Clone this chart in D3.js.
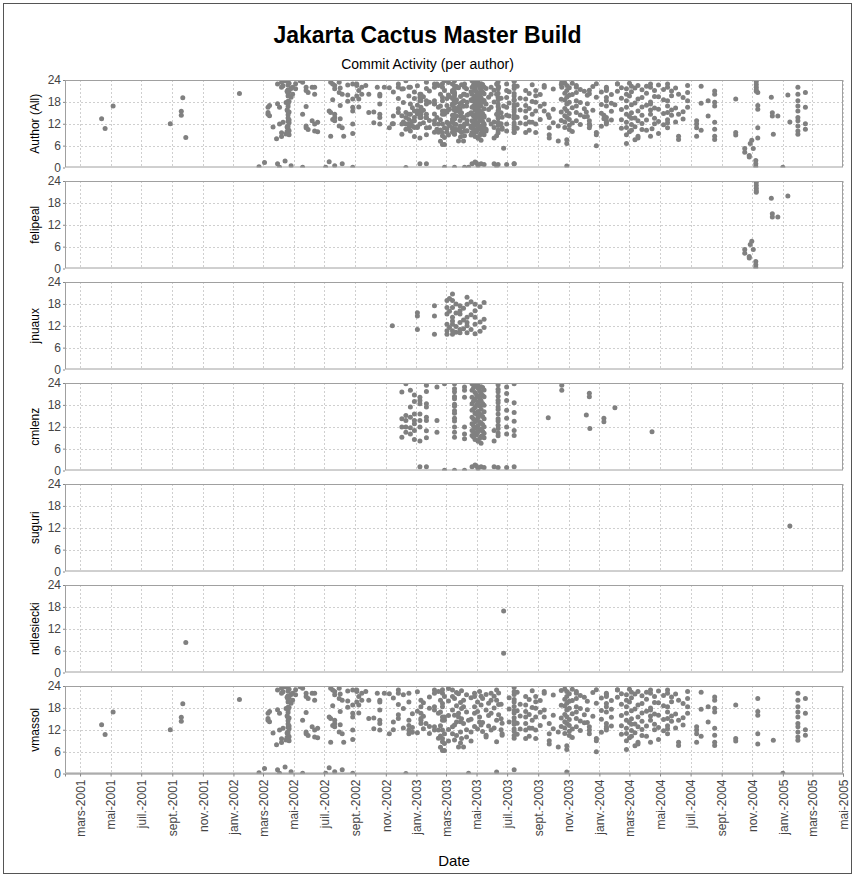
<!DOCTYPE html>
<html>
<head>
<meta charset="utf-8">
<script src="https://cdn.jsdelivr.net/npm/d3@7"></script>
<style>
	body { margin: 0; background: #fff; }
	text { font-family: "Liberation Sans", Arial, sans-serif; }
</style>
</head>
<body>
<div id="chart-area"></div>
<script>
// commit activity: one entry per day, [date, hours of day of commits]
const felipeal = [
	["2004-10-17", [5.2, 4.2]],
	["2004-10-26", [3.3, 2.9]],
	["2004-10-28", [6.6]],
	["2004-10-31", [7.5]],
	["2004-11-03", [5.2]],
	["2004-11-08", [1.9, 1.0, 0.3]],
	["2004-11-09", [23.6, 22.8, 22.0, 21.3, 20.9]],
	["2004-12-09", [19.3]],
	["2004-12-11", [15.0, 14.1]],
	["2004-12-22", [14.1]],
	["2005-01-11", [19.9]]
];

const jnuaux = [
	["2002-11-14", [12.0]],
	["2003-01-03", [15.6, 14.7, 11.0]],
	["2003-02-06", [17.5, 14.7, 9.7]],
	["2003-03-03", [18.9, 17.0, 15.2, 12.4, 10.6, 9.7]],
	["2003-03-08", [19.5, 16.0, 11.5]],
	["2003-03-14", [20.7, 18.9, 17.0, 14.3, 13.3, 12.4, 10.6, 9.7]],
	["2003-03-21", [18.0, 15.5, 11.8, 10.2]],
	["2003-03-29", [17.5, 16.1, 15.2, 12.9, 11.0, 10.1]],
	["2003-04-05", [16.8, 13.6, 11.2]],
	["2003-04-12", [19.8, 17.9, 14.3, 12.9, 12.0, 10.1]],
	["2003-04-20", [18.6, 15.0, 11.0]],
	["2003-04-28", [17.9, 16.1, 14.3, 12.4, 9.8]],
	["2003-05-08", [17.2, 13.0, 10.5]],
	["2003-05-16", [18.4, 13.8, 11.5]]
];

const cmlenz = [
	["2002-12-03", [21.5, 14.2, 11.9, 9.1]],
	["2002-12-11", [23.8, 15.1, 13.7, 11.9, 10.5]],
	["2002-12-20", [22.0, 17.4, 14.6, 11.7, 10.0]],
	["2002-12-28", [20.7, 18.9, 15.5, 13.7, 12.8, 11.0, 8.5]],
	["2003-01-08", [20.1, 19.2, 18.3, 15.5, 13.7, 11.9, 8.1, 1.0]],
	["2003-01-21", [23.4, 21.7, 18.3, 17.4, 14.6, 13.7, 10.9, 9.0, 1.0]],
	["2003-02-11", [22.9, 13.7, 10.5]],
	["2003-02-26", [23.8, 0.1]],
	["2003-03-18", [23.8, 22.4, 21.6, 20.3, 19.7, 18.2, 17.6, 16.4, 15.7, 14.3, 13.6, 11.9, 10.5, 9.1, 0.1]],
	["2003-04-07", [22.9, 22.0, 20.1, 11.9, 10.0, 8.7, 0.1]],
	["2003-04-22", [23.8, 22.0, 20.1, 18.3, 16.5, 14.6, 12.8, 11.0, 9.6, 1.0]],
	["2003-04-25", [22.7, 19.0, 16.9, 14.1, 12.2, 10.7, 9.2]],
	["2003-04-28", [23.5, 21.4, 19.6, 17.3, 15.7, 13.4, 11.6, 10.0, 8.5, 1.5]],
	["2003-05-01", [23.2, 20.8, 18.0, 15.4, 13.8, 11.8, 9.8, 1.2]],
	["2003-05-04", [24.0, 22.6, 20.4, 18.7, 16.2, 14.5, 12.3, 10.6, 8.0, 0.5]],
	["2003-05-07", [21.9, 19.8, 17.7, 15.6, 13.3, 11.1, 8.8]],
	["2003-05-10", [23.0, 21.2, 19.1, 16.8, 15.2, 13.0, 11.3, 9.4, 7.5, 1.0]],
	["2003-05-13", [22.8, 20.6, 18.4, 14.8, 12.6, 10.8, 9.3]],
	["2003-05-16", [22.1, 20.2, 17.9, 16.1, 14.2, 12.0, 10.2, 9.0, 0.8]],
	["2003-06-05", [11.0, 8.1, 1.0]],
	["2003-06-13", [23.5, 22.3, 21.6, 20.4, 19.3, 18.6, 17.4, 16.7, 15.5, 14.2, 13.6, 12.4, 11.5, 10.3, 9.5, 0.8]],
	["2003-06-30", [22.9, 21.1, 19.2, 16.5, 14.3, 11.9, 10.0, 0.8]],
	["2003-07-15", [23.8, 18.6, 15.9, 13.5, 11.0, 9.6, 1.0]],
	["2003-09-21", [14.5]],
	["2003-10-18", [23.4, 22.0]],
	["2003-12-06", [15.2]],
	["2003-12-12", [21.2, 20.2]],
	["2003-12-13", [11.5]],
	["2004-01-10", [14.3, 13.4]],
	["2004-02-01", [17.2]],
	["2004-04-15", [10.6]]
];

const suguri = [
	["2005-01-15", [12.5]]
];

const ndlesiecki = [
	["2001-09-28", [8.2]],
	["2003-06-24", [16.9, 5.3]]
];

const vmassol = [
	["2001-04-13", [13.4]],
	["2001-04-20", [10.7]],
	["2001-05-06", [16.9]],
	["2001-08-28", [12.0]],
	["2001-09-19", [15.4, 14.3]],
	["2001-09-22", [19.1]],
	["2002-01-13", [20.3]],
	["2002-02-21", [0.2]],
	["2002-03-04", [1.4]],
	["2002-03-11", [16.5, 15.1, 14.6]],
	["2002-03-14", [17.0, 14.2]],
	["2002-03-21", [11.1]],
	["2002-03-28", [7.9]],
	["2002-03-30", [22.9, 17.5, 1.0]],
	["2002-04-03", [16.5, 11.9, 0.1]],
	["2002-04-07", [23.4, 22.0, 9.5, 8.5]],
	["2002-04-10", [22.4, 12.4]],
	["2002-04-14", [23.8, 1.8]],
	["2002-04-16", [23.8, 17.8, 9.2]],
	["2002-04-18", [20.9, 15.8, 11.1, 9.9]],
	["2002-04-20", [22.6, 21.3, 20.4, 19.6, 18.2, 17.4, 16.7, 15.3, 14.5, 13.6, 12.7, 11.4, 10.6, 9.3]],
	["2002-04-22", [23.1, 21.0, 18.1, 15.2, 13.0, 12.3, 10.1, 9.0]],
	["2002-04-26", [21.7, 19.3, 0.5]],
	["2002-04-29", [22.0, 20.1]],
	["2002-05-05", [23.0, 21.6]],
	["2002-05-14", [23.8]],
	["2002-05-19", [23.4, 14.6, 0.1]],
	["2002-05-26", [22.0, 21.1, 16.7, 11.4, 10.9]],
	["2002-05-30", [20.6, 10.4]],
	["2002-06-07", [22.0, 12.8]],
	["2002-06-12", [22.0, 20.1, 11.9, 10.0]],
	["2002-06-18", [12.4, 9.8]],
	["2002-07-04", [0.1]],
	["2002-07-11", [15.5, 1.6]],
	["2002-07-14", [23.4, 15.1, 8.6]],
	["2002-07-18", [22.9, 18.6, 13.2]],
	["2002-07-22", [22.5, 21.6, 14.6, 13.7, 12.8, 0.5]],
	["2002-07-31", [23.4, 20.6, 11.4]],
	["2002-08-02", [21.8, 17.0, 13.4]],
	["2002-08-06", [20.1, 10.9, 1.0]],
	["2002-08-09", [8.6]],
	["2002-08-17", [22.6, 19.9, 18.2]],
	["2002-08-27", [22.9, 18.8, 16.5, 15.5, 11.9, 9.3, 0.1]],
	["2002-09-04", [22.9, 22.5, 19.6]],
	["2002-09-08", [21.1, 18.8, 16.6]],
	["2002-09-14", [22.0, 20.1]],
	["2002-09-22", [22.5]],
	["2002-09-28", [20.1, 15.1]],
	["2002-10-08", [15.2, 12.3]],
	["2002-10-15", [22.0]],
	["2002-10-20", [20.1, 19.6, 17.4, 14.6, 13.7, 11.9]],
	["2002-10-29", [22.0]],
	["2002-11-08", [21.9, 10.9]],
	["2002-11-16", [20.7, 14.1, 12.0]],
	["2002-11-26", [22.9, 22.0, 18.9, 16.1, 15.1]],
	["2002-12-06", [21.6, 17.8, 12.5]],
	["2002-12-11", [0.0]],
	["2002-12-17", [22.0, 19.6, 14.6, 13.2, 11.9, 10.9]],
	["2002-12-24", [16.4, 12.6, 11.3]],
	["2003-01-03", [22.4, 17.1, 11.2]],
	["2003-01-10", [20.1, 18.3, 16.5, 15.1, 14.6, 13.7]],
	["2003-01-15", [19.4, 15.7, 12.3]],
	["2003-01-20", [13.7]],
	["2003-01-27", [21.0, 17.9, 12.9, 11.0]],
	["2003-02-06", [22.9, 22.0, 18.3, 17.4, 12.8, 11.9]],
	["2003-02-14", [22.5, 16.5, 11.9, 9.7]],
	["2003-02-18", [20.1, 16.9, 13.1, 10.3, 7.2]],
	["2003-02-22", [23.0, 22.0, 19.2, 18.3, 15.5, 14.6, 11.9, 9.6, 8.7, 6.3]],
	["2003-02-26", [21.1, 15.5, 14.6, 10.9, 8.2, 6.3]],
	["2003-03-06", [23.3, 19.9, 15.9, 12.1, 8.9]],
	["2003-03-14", [22.9, 21.1, 17.4, 12.8, 10.9]],
	["2003-03-18", [20.6, 16.0, 13.3, 9.2]],
	["2003-03-22", [22.2, 18.6, 14.1, 10.4]],
	["2003-03-26", [21.9, 16.5, 15.5, 7.3]],
	["2003-03-30", [19.5, 14.2, 11.4, 8.4]],
	["2003-04-01", [22.7, 17.8, 15.0, 9.6]],
	["2003-04-05", [20.1, 18.3, 13.7, 7.3]],
	["2003-04-11", [21.6, 16.9, 12.0, 10.0]],
	["2003-04-15", [14.6, 0.1]],
	["2003-04-20", [20.8, 14.9, 11.4, 8.9]],
	["2003-04-27", [22.0, 21.1, 18.3, 16.5, 12.9]],
	["2003-05-03", [19.6, 17.0, 12.2]],
	["2003-05-07", [22.5, 15.5, 14.1]],
	["2003-05-10", [21.2, 18.8, 13.3]],
	["2003-05-13", [20.6, 14.0, 11.5]],
	["2003-05-20", [21.7, 17.4, 10.5, 10.0]],
	["2003-05-25", [19.3, 15.9, 13.0]],
	["2003-05-30", [22.0, 20.1, 16.5, 11.9]],
	["2003-06-05", [21.2, 18.0, 12.5]],
	["2003-06-10", [22.9, 20.1, 14.6, 8.7, 0.4]],
	["2003-06-14", [22.1, 18.9, 16.1]],
	["2003-06-19", [19.0, 15.0, 12.0]],
	["2003-06-21", [13.8, 10.9, 10.5]],
	["2003-07-05", [20.8, 17.7, 14.1]],
	["2003-07-15", [23.6, 22.4, 21.7, 20.3, 19.6, 18.4, 17.2, 16.6, 15.3, 14.4, 13.5, 12.2, 11.6, 10.4, 9.7, 1.0]],
	["2003-07-21", [22.3, 17.2, 13.8, 10.8]],
	["2003-07-27", [19.0, 15.8, 12.2]],
	["2003-08-07", [21.1, 18.8, 17.0, 15.5, 13.7, 11.9, 9.6]],
	["2003-08-14", [20.3, 16.2, 12.5, 10.2]],
	["2003-08-20", [22.7, 18.1, 14.6, 12.4]],
	["2003-08-27", [21.1, 19.7, 17.9, 15.5, 11.9, 9.6]],
	["2003-09-05", [20.0, 16.8, 13.2]],
	["2003-09-13", [22.5, 22.0, 17.4, 15.5]],
	["2003-09-23", [13.7, 10.9, 9.0, 8.1]],
	["2003-10-01", [21.5, 16.0, 12.3]],
	["2003-10-11", [11.4, 7.3]],
	["2003-10-17", [22.8, 18.7, 15.2, 12.9]],
	["2003-10-24", [23.2, 20.4, 18.5, 16.2, 14.2, 12.5, 11.0]],
	["2003-10-28", [22.5, 21.1, 19.3, 17.4, 15.6, 13.7, 7.6, 6.6, 0.4]],
	["2003-11-02", [21.9, 19.8, 17.9, 14.8, 13.2, 11.6, 10.4]],
	["2003-11-08", [23.1, 20.0, 16.4, 12.2, 9.9]],
	["2003-11-16", [22.5, 22.0, 20.6, 18.3, 16.9, 15.1, 12.8]],
	["2003-11-24", [21.4, 17.8, 14.4, 11.8]],
	["2003-12-02", [20.9, 16.1, 13.9]],
	["2003-12-08", [19.8, 17.5, 14.0]],
	["2003-12-12", [12.8, 11.9, 10.9]],
	["2003-12-19", [22.2, 15.7]],
	["2003-12-26", [23.0, 19.3, 9.6, 9.0, 6.0]],
	["2004-01-05", [20.7, 17.3, 14.9, 11.3]],
	["2004-01-15", [22.0, 21.6, 21.1, 19.2, 18.3, 16.9, 13.7, 12.8, 12.4, 11.9]],
	["2004-01-25", [20.0, 17.6, 15.4, 13.0]],
	["2004-02-06", [23.0, 22.9, 20.9]],
	["2004-02-14", [21.9, 19.0, 15.9, 13.1, 10.8]],
	["2004-02-24", [21.6, 20.1, 18.3, 16.5, 14.6, 12.4, 11.0, 9.0, 6.6]],
	["2004-03-01", [23.1, 19.6, 14.0, 9.8]],
	["2004-03-05", [22.3, 20.8, 17.2, 15.0, 13.5, 11.8, 10.2]],
	["2004-03-12", [21.8, 17.7, 13.6, 11.2, 7.6]],
	["2004-03-18", [22.5, 18.8, 15.5, 12.8, 8.6, 8.1]],
	["2004-03-26", [21.3, 19.2, 16.6, 14.3, 12.1, 10.4]],
	["2004-04-04", [22.3, 20.4, 17.1, 13.0, 10.2]],
	["2004-04-12", [22.9, 22.0, 18.0, 17.4, 15.8, 14.6, 8.6]],
	["2004-04-20", [21.1, 19.5, 16.3, 13.5, 12.0]],
	["2004-04-28", [22.6, 19.4, 16.0, 12.6, 9.3]],
	["2004-05-08", [21.4, 18.6, 14.8, 11.7]],
	["2004-05-16", [22.9, 22.0, 18.3, 16.9, 15.1, 13.1, 12.3, 10.9]],
	["2004-05-24", [21.0, 19.7, 15.8, 14.3]],
	["2004-06-01", [21.8, 16.3, 12.5]],
	["2004-06-07", [20.1, 14.6, 8.6, 7.7]],
	["2004-06-16", [19.2, 15.3, 13.3]],
	["2004-06-25", [22.5, 20.6, 18.3, 16.5]],
	["2004-07-13", [12.8, 11.9, 10.9, 8.6]],
	["2004-07-22", [22.3, 17.6, 10.2]],
	["2004-08-05", [18.3, 14.1]],
	["2004-08-18", [21.0, 20.1, 17.9, 16.9, 12.4, 10.5, 8.6, 7.7]],
	["2004-09-29", [18.8, 9.6, 8.9]],
	["2004-11-12", [20.6, 17.0, 16.0, 10.9, 8.1]],
	["2004-12-13", [9.1]],
	["2005-01-01", [0.1]],
	["2005-01-31", [22.0, 20.1, 18.3, 16.9, 15.5, 13.7, 12.8, 11.4, 10.0, 9.1]],
	["2005-02-15", [20.6, 16.5, 12.0, 10.5]]
];

// panels, top to bottom (the first one holds every author)
const authorNames = ["felipeal", "jnuaux", "cmlenz", "suguri", "ndlesiecki", "vmassol"];
const authorData = [felipeal, jnuaux, cmlenz, suguri, ndlesiecki, vmassol];
const panelLabels = ["Author (All)"].concat(authorNames);
const hourTicks = [0, 6, 12, 18, 24];
const dateDomain = ["2001-01-30", "2005-05-01"];

// french short month names used on the date axis
const frShortMonths = ["janv.", "févr.", "mars", "avr.", "mai", "juin", "juil.", "août", "sept.", "oct.", "nov.", "déc."];

// set up sizes
const canvasWidth = 855;
const canvasHeight = 877;
const margin = { left: 65, right: 12, top: 80 };
const plotWidth = canvasWidth - margin.left - margin.right;
const panelHeight = 87.5;
const panelStep = 101;

const parseDate = d3.timeParse("%Y-%m-%d");

// flatten day entries into points
const toPoints = (rows) => rows.flatMap(([day, hours]) => hours.map((h) => ({ date: parseDate(day), hour: h })));
const panels = [authorData.flatMap(toPoints)].concat(authorData.map(toPoints));

const svg = d3.select("#chart-area")
	.append("svg")
		.attr("width", canvasWidth)
		.attr("height", canvasHeight);

// outer frame
svg.append("rect")
	.attr("x", 3.5)
	.attr("y", 3.5)
	.attr("width", canvasWidth - 7)
	.attr("height", canvasHeight - 7)
	.attr("fill", "none")
	.attr("stroke", "#555");

// title and subtitle
svg.append("text")
	.attr("x", canvasWidth / 2)
	.attr("y", 43)
	.attr("text-anchor", "middle")
	.attr("font-size", "23px")
	.attr("font-weight", "bold")
	.attr("fill", "#000")
	.text("Jakarta Cactus Master Build");

svg.append("text")
	.attr("x", canvasWidth / 2)
	.attr("y", 69)
	.attr("text-anchor", "middle")
	.attr("font-size", "14px")
	.attr("fill", "#000")
	.text("Commit Activity (per author)");

// scales
const xScale = d3.scaleTime()
	.domain(dateDomain.map(parseDate))
	.range([0, plotWidth]);

const yScale = d3.scaleLinear()
	.domain([0, 24])
	.range([panelHeight, 0]);

const frLocale = d3.timeFormatLocale({
	dateTime: "%A %e %B %Y à %X",
	date: "%d/%m/%Y",
	time: "%H:%M:%S",
	periods: ["AM", "PM"],
	days: ["dimanche", "lundi", "mardi", "mercredi", "jeudi", "vendredi", "samedi"],
	shortDays: ["dim.", "lun.", "mar.", "mer.", "jeu.", "ven.", "sam."],
	months: ["janvier", "février", "mars", "avril", "mai", "juin", "juillet", "août", "septembre", "octobre", "novembre", "décembre"],
	shortMonths: frShortMonths
});

const monthTicks = xScale.ticks(d3.timeMonth.every(2));

// clip path for points
svg.append("defs").append("clipPath")
	.attr("id", "plot-clip")
	.append("rect")
		.attr("width", plotWidth)
		.attr("height", panelHeight);

panels.forEach((points, i) => {
	const g = svg.append("g")
		.attr("transform", `translate(${margin.left}, ${margin.top + i * panelStep})`);

	// background
	g.append("rect")
		.attr("width", plotWidth)
		.attr("height", panelHeight)
		.attr("fill", "#fff");

	// grid lines
	g.selectAll(".vgrid")
		.data(monthTicks)
		.enter().append("line")
			.attr("x1", (d) => Math.round(xScale(d)) + 0.5)
			.attr("x2", (d) => Math.round(xScale(d)) + 0.5)
			.attr("y1", 0)
			.attr("y2", panelHeight)
			.attr("stroke", "#cfcfcf")
			.attr("stroke-dasharray", "2,2");

	g.selectAll(".hgrid")
		.data(hourTicks.slice(1, -1))
		.enter().append("line")
			.attr("x1", 0)
			.attr("x2", plotWidth)
			.attr("y1", (d) => Math.round(yScale(d)) + 0.5)
			.attr("y2", (d) => Math.round(yScale(d)) + 0.5)
			.attr("stroke", "#cfcfcf")
			.attr("stroke-dasharray", "2,2");

	// points
	g.append("g")
		.attr("clip-path", "url(#plot-clip)")
		.selectAll("circle")
		.data(points)
		.enter().append("circle")
			.attr("cx", (d) => xScale(d.date))
			.attr("cy", (d) => yScale(d.hour))
			.attr("r", 2.5)
			.attr("fill", "#808080");

	// border
	g.append("rect")
		.attr("x", 0.5)
		.attr("y", 0.5)
		.attr("width", plotWidth - 1)
		.attr("height", panelHeight - 1)
		.attr("fill", "none")
		.attr("stroke", "#a0a0a0");

	// Y axis
	const yAxis = d3.axisLeft(yScale)
		.tickValues(hourTicks)
		.tickSize(2)
		.tickPadding(2);

	const yG = g.append("g").call(yAxis);
	yG.select(".domain").remove();
	yG.selectAll("line").attr("stroke", "#888");
	yG.selectAll("text")
		.attr("font-family", "Liberation Sans, Arial, sans-serif")
		.attr("font-size", "12px")
		.attr("fill", "#444");

	// panel label
	g.append("text")
		.attr("transform", `translate(-26, ${panelHeight / 2}) rotate(-90)`)
		.attr("text-anchor", "middle")
		.attr("font-size", "12px")
		.attr("fill", "#000")
		.text(panelLabels[i]);

	// X axis under the last panel
	if (i === panels.length - 1) {
		const xAxis = d3.axisBottom(xScale)
			.tickValues(monthTicks)
			.tickFormat(frLocale.format("%b-%Y"))
			.tickSize(3);

		const xG = g.append("g")
			.attr("transform", `translate(0, ${panelHeight})`)
			.call(xAxis);
		xG.select(".domain").attr("stroke", "#888");
		xG.selectAll("line").attr("stroke", "#888");
		xG.selectAll("text")
			.attr("font-family", "Liberation Sans, Arial, sans-serif")
			.attr("font-size", "12px")
			.attr("fill", "#444")
			.attr("transform", "rotate(-90)")
			.attr("text-anchor", "end")
			.attr("x", -6)
			.attr("y", 0)
			.attr("dy", "0.35em");
	}
});

// X axis label
svg.append("text")
	.attr("x", margin.left + plotWidth / 2)
	.attr("y", 866)
	.attr("text-anchor", "middle")
	.attr("font-size", "15px")
	.attr("fill", "#000")
	.text("Date");
</script>
</body>
</html>
